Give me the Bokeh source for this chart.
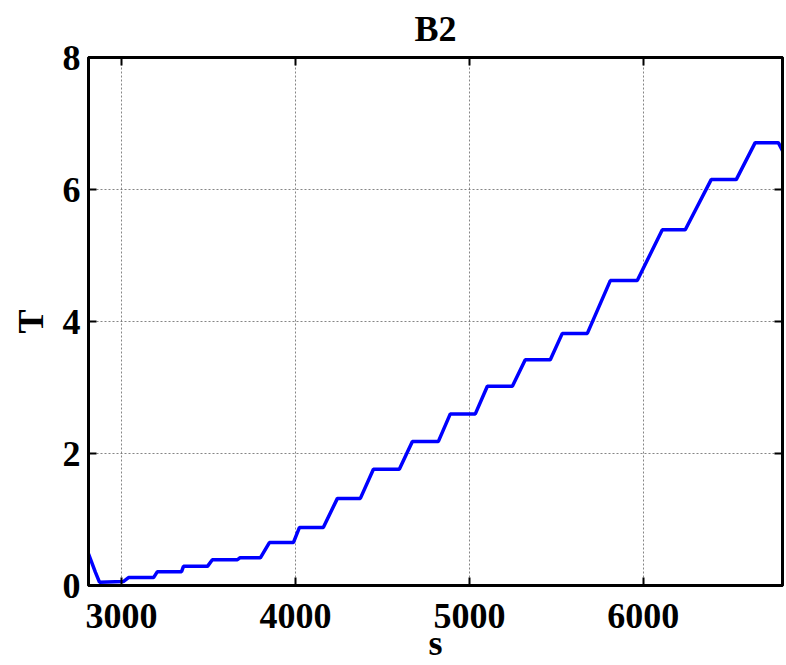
from bokeh.plotting import figure
from bokeh.models import Range1d, LinearAxis, FixedTicker, CustomJSTickFormatter, ColumnDataSource
from bokeh.embed import file_html
from bokeh.resources import INLINE

# data
s_values = [2810, 2850, 2873, 3010, 3040, 3184, 3206, 3345, 3356, 3494, 3522, 3666, 3680,
            3798, 3850, 3988, 4023, 4160, 4241, 4373, 4448, 4597, 4672, 4821, 4890,
            5034, 5103, 5247, 5321, 5465, 5534, 5678, 5810, 5965, 6109, 6241, 6390,
            6534, 6643, 6776, 6800]
T_values = [0.48, 0.20, 0.05, 0.06, 0.12, 0.12, 0.21, 0.21, 0.29, 0.29, 0.39, 0.39, 0.42,
            0.42, 0.65, 0.65, 0.88, 0.88, 1.32, 1.32, 1.76, 1.76, 2.18, 2.18, 2.60,
            2.60, 3.02, 3.02, 3.42, 3.42, 3.82, 3.82, 4.62, 4.62, 5.39, 5.39, 6.15,
            6.15, 6.71, 6.71, 6.59]
x_ticks = [3000, 4000, 5000, 6000]
y_ticks = [0, 2, 4, 6, 8]
title_text = "B2"
x_label = "s"
y_label = "T"

FONT = "Liberation Serif"
SIZE = "36px"

p = figure(width=786, height=665, output_backend="svg", toolbar_location=None,
           x_range=Range1d(2810, 6800), y_range=Range1d(0, 8),
           min_border_left=88, min_border_right=4, min_border_top=57, min_border_bottom=80,
           background_fill_color="white", border_fill_color="white")

p.title.text = title_text
p.title.align = "center"
p.title.vertical_align = "top"
p.title.text_font = FONT
p.title.text_font_style = "bold"
p.title.text_font_size = SIZE
p.title.text_color = "black"
p.title.text_line_height = 0.6
p.title.standoff = 13

p.outline_line_color = "black"
p.outline_line_width = 3
p.outline_line_alpha = 1.0

for ax, ticks, lab in ((p.xaxis[0], x_ticks, x_label), (p.yaxis[0], y_ticks, y_label)):
    ax.ticker = FixedTicker(ticks=ticks)
    ax.axis_label = lab
    ax.axis_label_text_font = FONT
    ax.axis_label_text_font_style = "bold"
    ax.axis_label_text_font_size = SIZE
    ax.axis_label_text_color = "black"
    ax.major_label_text_font = FONT
    ax.major_label_text_font_style = "bold"
    ax.major_label_text_font_size = SIZE
    ax.major_label_text_color = "black"
    ax.major_tick_in = 8
    ax.major_tick_out = 0
    ax.minor_tick_line_color = None
    ax.axis_line_width = 3
    ax.axis_line_color = "black"
    ax.major_tick_line_width = 2
    ax.major_tick_line_color = "black"

p.xaxis[0].major_label_standoff = 18
p.xaxis[0].axis_label_standoff = -8
p.yaxis[0].major_label_standoff = 8
p.yaxis[0].axis_label_standoff = 9

# box ticks on top and right
for loc, ticks in (("above", x_ticks), ("right", y_ticks)):
    a = LinearAxis(ticker=FixedTicker(ticks=ticks),
                   formatter=CustomJSTickFormatter(code="return ''"))
    a.major_tick_in = 8
    a.major_tick_out = 0
    a.minor_tick_line_color = None
    a.axis_line_width = 3
    a.axis_line_color = "black"
    a.major_tick_line_width = 2
    a.major_tick_line_color = "black"
    a.major_label_standoff = 0
    a.major_label_text_font_size = "1px"
    p.add_layout(a, loc)

for g, ticks in ((p.xgrid[0], x_ticks), (p.ygrid[0], y_ticks)):
    g.ticker = FixedTicker(ticks=ticks)
    g.grid_line_color = "#666666"
    g.grid_line_dash = "2 2"
    g.grid_line_width = 1
    g.grid_line_alpha = 0.8

src = ColumnDataSource(data=dict(s=s_values, T=T_values))
p.line("s", "T", source=src, line_color="#0000FF", line_width=3.5)

open("out.html", "w").write(file_html(p, INLINE))
